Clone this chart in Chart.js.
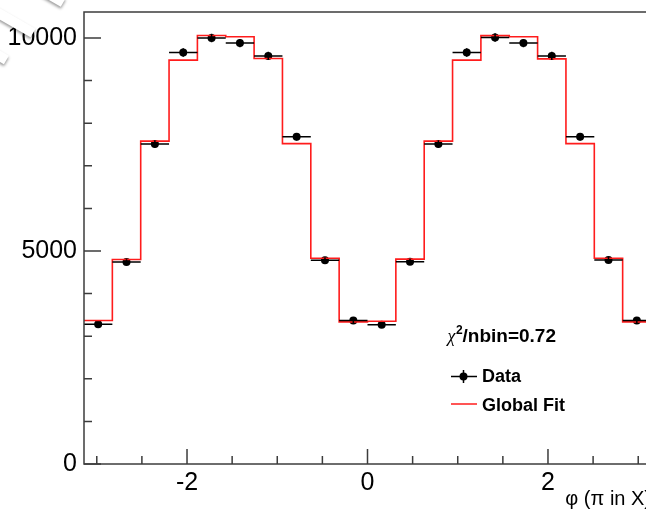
<!DOCTYPE html>
<html>
<head>
<meta charset="utf-8">
<script src="https://cdn.jsdelivr.net/npm/chart.js@4.4.0/dist/chart.umd.min.js"></script>
<style>
  html, body { margin: 0; padding: 0; background: #fff; overflow: hidden; }
  #wrap { width: 646px; height: 517px; overflow: hidden; }
</style>
</head>
<body>
<div id="wrap"><canvas id="phiChart" width="700" height="517"></canvas></div>
<script>
// 20 bins of phi over (-pi, pi)
const nBins = 20;
const phiMin = -Math.PI;
const phiMax = Math.PI;
const binWidth = (phiMax - phiMin) / nBins;

// counts
const dataCounts = [3280, 4740, 7510, 9660, 10000, 9880, 9580, 7680, 4780, 3370,
                    3270, 4750, 7510, 9660, 10010, 9880, 9580, 7680, 4790, 3370];
const dataErrors = [57, 69, 87, 98, 100, 99, 98, 88, 69, 58,
                    57, 69, 87, 98, 100, 99, 98, 88, 69, 58];
const fitCounts = [3370, 4800, 7580, 9480, 10060, 10030, 9520, 7520, 4830, 3335,
                   3350, 4810, 7580, 9480, 10055, 10030, 9510, 7520, 4830, 3335];

// ticks (all drawn inside the frame, labels only on the major ones)
const xTickValues = [-3, -2.5, -2, -1.5, -1, -0.5, 0, 0.5, 1, 1.5, 2, 2.5, 3];
const xTickLabels = [-2, 0, 2];
const yTickValues = [0, 1000, 2000, 3000, 4000, 5000, 6000, 7000, 8000, 9000, 10000];
const yTickLabels = [0, 5000, 10000];
const yMax = 10610;
const seriesNames = ['Data', 'Global Fit'];
const chi2Label = '/nbin=0.72';
const xTitle = 'φ (π in X)';

const fitColor = 'rgb(255,28,28)';
const axisColor = '#3c3c3c';

const near = (v, list) => list.some(t => Math.abs(v - t) < 1e-6);

// fit histogram: left edge of each bin + closing point at phiMax
const fitPoints = fitCounts.map((c, i) => ({ x: phiMin + i * binWidth, y: c }));
fitPoints.push({ x: phiMax, y: fitCounts[nBins - 1] });

const dataPoints = dataCounts.map((c, i) => ({ x: phiMin + (i + 0.5) * binWidth, y: c, err: dataErrors[i] }));

// error bars, frame, inside ticks, legend
const rootStyle = {
  id: 'rootStyle',
  afterDatasetsDraw(chart) {
    const ctx = chart.ctx, xs = chart.scales.x, ys = chart.scales.y;
    ctx.save();
    ctx.strokeStyle = '#000';
    ctx.lineWidth = 1.5;
    dataPoints.forEach(p => {
      const cy = ys.getPixelForValue(p.y);
      const cx = xs.getPixelForValue(p.x);
      ctx.beginPath();
      ctx.moveTo(xs.getPixelForValue(p.x - binWidth / 2), cy);
      ctx.lineTo(xs.getPixelForValue(p.x + binWidth / 2), cy);
      ctx.moveTo(cx, ys.getPixelForValue(p.y - p.err));
      ctx.lineTo(cx, ys.getPixelForValue(p.y + p.err));
      ctx.stroke();
    });
    ctx.restore();
  },
  afterDraw(chart) {
    const ctx = chart.ctx, a = chart.chartArea, xs = chart.scales.x, ys = chart.scales.y;
    ctx.save();
    ctx.strokeStyle = axisColor;
    ctx.lineWidth = 1.5;
    ctx.strokeRect(a.left, a.top, a.right - a.left, a.bottom - a.top);

    ctx.beginPath();
    ys.ticks.forEach(t => {
      const y = ys.getPixelForValue(t.value);
      const len = near(t.value, yTickLabels) ? 17 : 8;
      ctx.moveTo(a.left, y);
      ctx.lineTo(a.left + len, y);
    });
    xs.ticks.forEach(t => {
      const x = xs.getPixelForValue(t.value);
      const len = near(t.value, xTickLabels) ? 15 : 8;
      ctx.moveTo(x, a.bottom);
      ctx.lineTo(x, a.bottom - len);
    });
    ctx.stroke();

    // legend box
    ctx.fillStyle = '#000';
    ctx.textBaseline = 'alphabetic';
    ctx.font = 'italic 18px "Liberation Serif", serif';
    ctx.fillText('χ', 447.5, 341.5);
    ctx.font = 'bold 12px "Liberation Sans", Arial, sans-serif';
    ctx.fillText('2', 456, 334);
    ctx.font = 'bold 19px "Liberation Sans", Arial, sans-serif';
    ctx.fillText(chi2Label, 462.5, 341.5);

    ctx.font = 'bold 18px "Liberation Sans", Arial, sans-serif';
    ctx.strokeStyle = '#000';
    ctx.lineWidth = 1.5;
    ctx.beginPath();
    ctx.moveTo(451, 376.5); ctx.lineTo(477, 376.5);
    ctx.moveTo(463.5, 370); ctx.lineTo(463.5, 383);
    ctx.stroke();
    ctx.beginPath();
    ctx.arc(463.5, 376.5, 4, 0, Math.PI * 2);
    ctx.fill();
    ctx.fillText(seriesNames[0], 482, 382);

    ctx.strokeStyle = fitColor;
    ctx.beginPath();
    ctx.moveTo(451, 404); ctx.lineTo(477, 404);
    ctx.stroke();
    ctx.fillText(seriesNames[1], 482, 410.5);

    // folded-corner marks over the top left
    ctx.fillStyle = '#fff';
    ctx.shadowColor = 'rgba(0,0,0,0.4)';
    ctx.shadowBlur = 3;
    ctx.shadowOffsetX = 0;
    ctx.shadowOffsetY = 2;
    [[14, 22, 44, 10], [52, -4, 26, 10], [-4, 54, 24, 10]].forEach(([cx, cy, len, w]) => {
      ctx.save();
      ctx.translate(cx, cy);
      ctx.rotate(Math.PI / 6);
      ctx.fillRect(-len / 2, -w / 2, len, w);
      ctx.restore();
    });
    ctx.restore();
  }
};

new Chart(document.getElementById('phiChart').getContext('2d'), {
  type: 'line',
  data: {
    datasets: [{
      label: seriesNames[1],
      data: fitPoints,
      stepped: 'before',
      borderColor: fitColor,
      borderWidth: 1.6,
      pointRadius: 0,
      fill: false
    }, {
      label: seriesNames[0],
      data: dataPoints,
      showLine: false,
      pointRadius: 4,
      pointBorderWidth: 0,
      pointBackgroundColor: '#000'
    }]
  },
  options: {
    responsive: false,
    animation: false,
    layout: { padding: { top: 12, right: 49, left: 0, bottom: 0 } },
    plugins: { legend: { display: false }, tooltip: { enabled: false } },
    scales: {
      x: {
        type: 'linear',
        min: phiMin,
        max: phiMax,
        grid: { display: false, drawTicks: false },
        border: { display: false },
        afterBuildTicks: s => { s.ticks = xTickValues.map(v => ({ value: v })); },
        ticks: {
          autoSkip: false,
          maxRotation: 0,
          padding: 4,
          color: '#000',
          font: { family: '"Liberation Sans", Arial, sans-serif', size: 25 },
          callback: v => near(v, xTickLabels) ? String(Math.round(v)) : ''
        },
        title: {
          display: true,
          text: xTitle,
          align: 'end',
          color: '#000',
          font: { family: '"Liberation Sans", Arial, sans-serif', size: 20 },
          padding: { top: 0, bottom: 6 }
        },
        afterFit: s => { s.height = 53; s.paddingLeft = 0; s.paddingRight = 0; }
      },
      y: {
        min: 0,
        max: yMax,
        grid: { display: false, drawTicks: false },
        border: { display: false },
        afterBuildTicks: s => { s.ticks = yTickValues.map(v => ({ value: v })); },
        ticks: {
          autoSkip: false,
          padding: 7,
          color: '#000',
          font: { family: '"Liberation Sans", Arial, sans-serif', size: 25 },
          callback: v => near(v, yTickLabels) ? String(v) : ''
        },
        afterFit: s => { s.width = 84; s.paddingTop = 0; s.paddingBottom = 0; }
      }
    }
  },
  plugins: [rootStyle]
});
</script>
</body>
</html>
